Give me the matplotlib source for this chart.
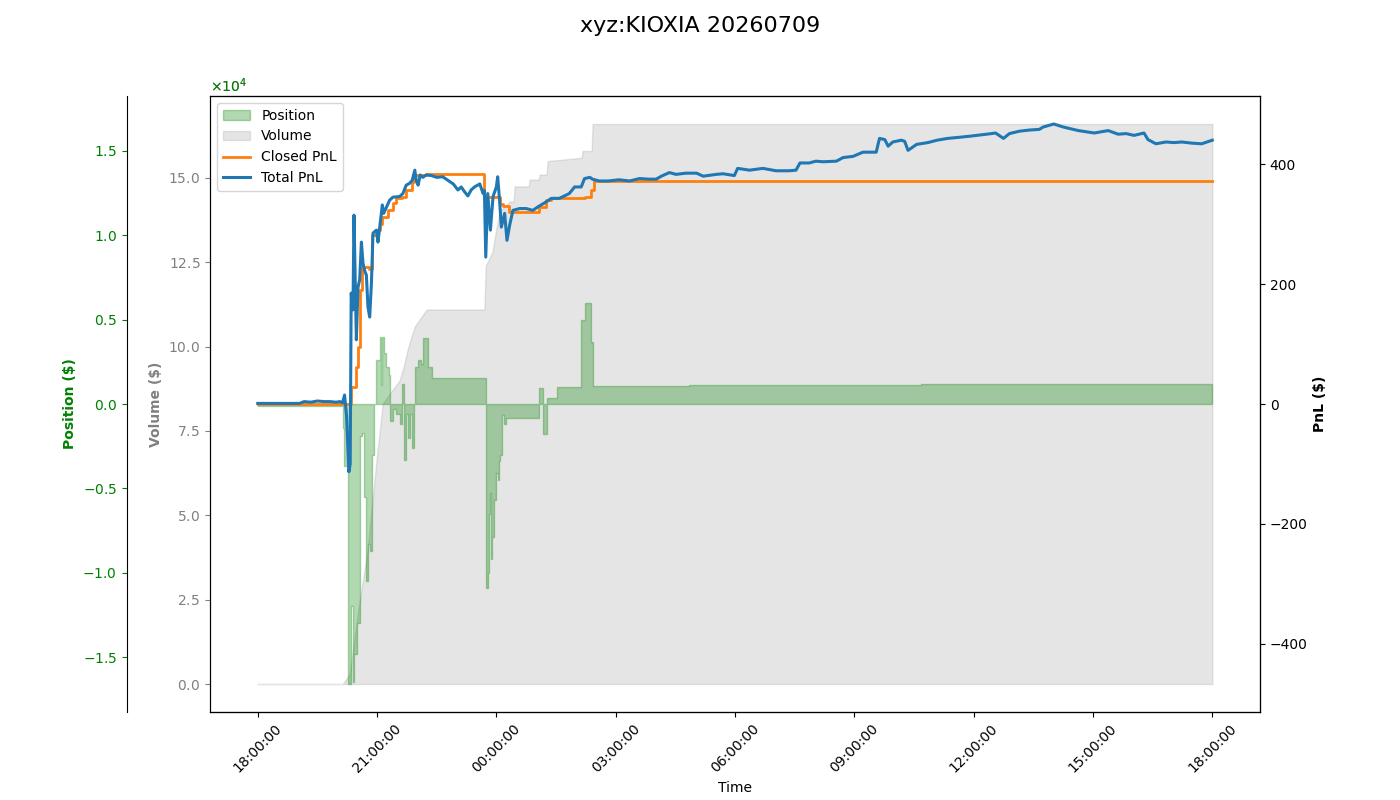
import pandas as pd
import numpy as np
import matplotlib
matplotlib.use("Agg")
import matplotlib.pyplot as plt
import matplotlib.dates as mdates

start = pd.Timestamp("2026-07-08 18:00")

# total pnl (minutes since 18:00, $)
pnl_min = [0, 40, 63, 70, 80, 90, 100, 109, 118, 124, 128, 131, 134, 137.5, 139.5, 141,
           143.7, 145.2, 147.3, 148.8, 151.3, 153.8, 156.4, 158.8, 161.4, 163.9, 166.3,
           168.9, 171.5, 173.9, 179, 181.4, 184, 188, 190, 199, 204, 214, 219, 224, 229,
           233, 237, 239, 242, 245, 249, 254, 262, 270, 279, 287, 295, 302, 307, 312,
           317, 322, 327, 335, 340, 342, 344, 347, 351, 355, 360, 362, 365, 367.5, 372.5,
           376, 380, 385, 395, 405, 415, 423, 435, 443, 455, 470, 478, 488, 493, 501,
           505, 515, 529, 545, 561, 576, 590, 601, 609, 621, 631, 646, 662, 672, 692,
           702, 719, 724, 742, 762, 782, 802, 812, 818, 832, 842, 853, 873, 883, 898,
           913, 933, 938, 946, 951, 958, 971, 976, 981, 994, 1011, 1025, 1041, 1060,
           1077, 1092, 1107, 1113, 1125, 1134, 1149, 1165, 1179, 1185, 1201, 1215, 1238,
           1250, 1262, 1283, 1298, 1310, 1322, 1337, 1343, 1355, 1370, 1382, 1394, 1410,
           1424, 1440]
total_pnl = [1, 1, 1, 4, 3, 5, 4, 4, 3, 4, 2, 15, -20, -113, -100, 185,
             157, 315, 195, 107, 195, 207, 270, 235, 222, 215, 162,
             145, 201, 285, 290, 270, 295, 332, 318, 340, 345, 346, 351, 365, 368,
             373, 390, 373, 365, 382, 378, 382, 381, 378, 379, 373, 367, 357, 362, 354,
             347, 357, 362, 367, 351, 356, 245, 351, 290, 346, 362, 379, 337, 295, 318,
             273, 298, 323, 326, 326, 323, 329, 337, 343, 343, 351, 362, 362, 376, 378,
             375, 372, 372, 374, 372, 376, 375, 375, 380, 386, 383, 385, 385, 380, 383,
             384, 381, 393, 390, 393, 389, 389, 390, 402, 402, 405, 404, 405, 411, 413,
             420, 420, 443, 441, 430, 437, 440, 438, 423, 433, 436, 440, 443, 445,
             447, 449, 451, 452, 443, 451, 455, 457, 458, 462, 467, 462, 456,
             454, 452, 456, 450, 451, 448, 452, 441, 434, 437, 436, 437, 435,
             434, 440]

# closed pnl steps
closed_min = [0, 141, 148, 152, 155, 157, 168, 173, 180, 185, 188, 197, 204, 209, 217,
              224, 232, 236, 254, 342, 365, 370, 379, 425, 435, 443, 493, 503, 508, 1440]
closed_pnl = [0, 29, 62, 95, 190, 229, 225, 282, 290, 300, 312, 323, 335, 343, 346,
              357, 370, 382, 383, 346, 334, 330, 320, 329, 340, 343, 346, 357, 372, 372]

# position ($)
pos_min = [0, 128, 130, 136, 140, 143, 145, 150, 154, 155, 157, 161, 164, 166, 170, 173,
           176, 179, 184, 186, 188, 190, 194, 197.5, 200, 204, 209, 214, 217, 220, 223,
           227, 230, 233, 236, 237, 242, 247, 250, 255, 257, 263, 344, 347, 349, 351,
           352, 354, 357, 360, 362, 364, 366, 369, 371, 375, 424, 431, 436, 452, 488,
           494, 503, 506, 650, 850, 1000, 1440]
position = [-100, -1400, -3700, -16600, -12000, -16500, -14800, -13000, -6900, -1900,
            -1700, -5500, -10500, -8300, -8700, -3000, 0, 2600, 4000, 1100, 4000, 3000,
            2200, 1700, -1000, -300, -600, -1200, 1200, -3300, -600, -2000, -600, -2600,
            0, 2200, 2600, 2400, 3900, 3900, 2200, 1550, -10900, -10000, -6500, -5300,
            -9200, -7900, -5700, -4100, -4500, -3400, -3000, -650, -1200, -850, 950,
            -1800, 350, 1000, 5000, 6000, 3700, 1070, 1100, 1150, 1200, 1200]

# cumulative volume ($)
vol_min = [0, 128, 139, 151, 166, 179.5, 188.5, 199, 214, 220, 226, 232, 237, 244, 255,
           342, 344, 354, 360, 365, 380, 386, 387.6, 408.7, 410.2, 423.7, 425.3, 435.8,
           437.4, 488.6, 490.1, 503.7, 505.2, 1440]
volume = [0, 0, 3000, 21000, 40000, 67000, 83000, 86000, 90000, 94000, 99000, 103000,
          106000, 108000, 111000, 111000, 124000, 128000, 135000, 140000, 143000, 143000,
          147500, 147500, 149500, 149500, 151000, 151000, 155000, 156000, 158000, 158000,
          166000, 166000]


def to_time(mins):
    return start + pd.to_timedelta(mins, unit="min")


fig, ax_vol = plt.subplots(figsize=(14, 8))
plt.subplots_adjust(left=0.15)

ax_pos = ax_vol.twinx()
ax_pos.yaxis.tick_left()
ax_pos.yaxis.set_label_position("left")
ax_pos.spines["left"].set_position(("outward", 60))

ax_pnl = ax_vol.twinx()

v = ax_vol.fill_between(to_time(vol_min), volume, 0, color="gray", alpha=0.2, label="Volume")
p = ax_pos.fill_between(to_time(pos_min), position, 0, step="post", color="green",
                        alpha=0.3, label="Position")
l1, = ax_pnl.plot(to_time(closed_min), closed_pnl, color="#ff7f0e", lw=2,
                  drawstyle="steps-post", label="Closed PnL")
l2, = ax_pnl.plot(to_time(pnl_min), total_pnl, color="#1f77b4", lw=2.2, label="Total PnL")

# symmetric limits so zero lines up
pos_lim = max(abs(x) for x in position) * 1.1
ax_pos.set_ylim(-pos_lim, pos_lim)
pnl_lim = max(abs(x) for x in total_pnl) * 1.1
ax_pnl.set_ylim(-pnl_lim, pnl_lim)

for a in (ax_vol, ax_pos):
    a.ticklabel_format(axis="y", style="sci", scilimits=(4, 4), useMathText=True)

ax_vol.set_ylabel("Volume ($)", color="gray", fontweight="bold")
ax_vol.tick_params(axis="y", colors="gray")
ax_vol.yaxis.get_offset_text().set_color("gray")
ax_pos.set_ylabel("Position ($)", color="green", fontweight="bold")
ax_pos.tick_params(axis="y", colors="green")
ax_pos.yaxis.get_offset_text().set_color("green")
ax_pnl.set_ylabel("PnL ($)", fontweight="bold")

ax_vol.xaxis.set_major_locator(mdates.HourLocator(byhour=range(0, 24, 3)))
ax_vol.xaxis.set_major_formatter(mdates.DateFormatter("%H:%M:%S"))
ax_vol.set_xlabel("Time")
for lab in ax_vol.get_xticklabels():
    lab.set_rotation(45)

ax_pnl.legend([p, v, l1, l2], ["Position", "Volume", "Closed PnL", "Total PnL"],
              loc="upper left")

fig.suptitle("xyz:KIOXIA 20260709", fontsize=16)
plt.savefig("out.png", dpi=100)
plt.close()
